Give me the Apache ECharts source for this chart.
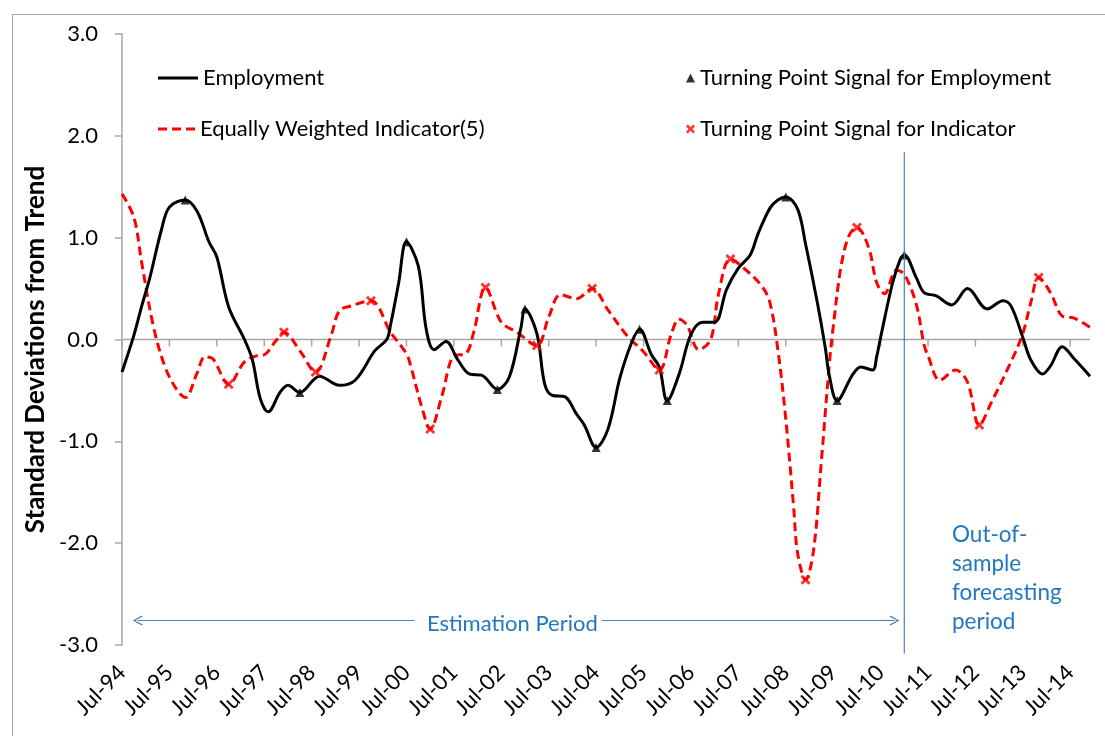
<!DOCTYPE html>
<html>
<head>
<meta charset="utf-8">
<script src="https://cdn.jsdelivr.net/npm/echarts@6/dist/echarts.min.js"></script>
<style>
  html, body { margin: 0; padding: 0; background: #fff; }
  #wrap { position: relative; width: 1105px; height: 736px; overflow: hidden; }
  #chart { width: 1105px; height: 736px; }
  #frame {
    position: absolute; left: 12px; top: 14px; width: 1120px; height: 760px;
    border: 1.5px solid #a6a6a6; pointer-events: none;
  }
</style>
</head>
<body>
<div id="wrap">
  <div id="chart"></div>
  <div id="frame"></div>
</div>
<script>
// months counted from Jul-94
const yearLabels = ['Jul-94', 'Jul-95', 'Jul-96', 'Jul-97', 'Jul-98', 'Jul-99', 'Jul-00', 'Jul-01', 'Jul-02', 'Jul-03',
  'Jul-04', 'Jul-05', 'Jul-06', 'Jul-07', 'Jul-08', 'Jul-09', 'Jul-10', 'Jul-11', 'Jul-12', 'Jul-13', 'Jul-14']

const empX = [0, 3, 5, 7, 10, 12, 16, 19, 22, 24, 27, 31, 33, 35, 37, 40, 42, 45, 50, 55, 59, 64, 67, 68, 70, 72, 75, 77, 79, 82,
  85, 88, 91, 95, 98, 101, 102, 105, 107, 109, 112, 115, 117, 120, 123, 126, 129, 131, 134, 136, 138, 141, 144, 147, 150, 153,
  156, 159, 161, 164, 166, 168, 171, 173, 176, 178, 179, 181, 185, 187, 190, 191, 192, 195, 197, 198, 201, 203, 206, 210, 214,
  219, 223, 225, 228, 230, 233, 235, 238, 241, 245]
const empY = [-0.32, 0.04, 0.33, 0.60, 1.08, 1.30, 1.37, 1.26, 0.96, 0.81, 0.32, 0.00, -0.20, -0.58, -0.71, -0.52, -0.45, -0.52,
  -0.36, -0.45, -0.40, -0.11, 0.00, 0.15, 0.55, 0.96, 0.72, 0.10, -0.10, -0.02, -0.20, -0.34, -0.35, -0.49, -0.37, 0.12, 0.30,
  0.06, -0.44, -0.55, -0.56, -0.73, -0.84, -1.06, -0.88, -0.38, -0.03, 0.10, -0.15, -0.27, -0.60, -0.34, 0.05, 0.17, 0.17, 0.49,
  0.70, 0.83, 1.04, 1.29, 1.37, 1.40, 1.28, 0.94, 0.36, -0.08, -0.35, -0.60, -0.34, -0.27, -0.30, -0.17, 0.02, 0.55, 0.79, 0.83,
  0.61, 0.46, 0.43, 0.34, 0.50, 0.30, 0.38, 0.33, 0.02, -0.20, -0.34, -0.26, -0.07, -0.19, -0.36]

const indX = [0, 3, 5, 8, 11, 14, 16, 19, 21, 23, 27, 31, 34, 36, 39, 41, 45, 49, 53, 55, 58, 63, 68, 72, 73, 76, 78, 81, 84, 87,
  89, 92, 96, 100, 105, 108, 111, 115, 119, 123, 128, 132, 136, 139, 141, 143, 146, 149, 151, 154, 158, 162, 164, 166, 168, 170,
  171, 173, 175, 177, 179, 180, 182, 184, 186, 189, 191, 193, 196, 198, 201, 203, 204, 207, 211, 214, 217, 220, 225, 228, 230,
  232, 235, 238, 241, 245]
const indY = [1.43, 1.20, 0.75, 0.12, -0.28, -0.50, -0.57, -0.33, -0.17, -0.19, -0.44, -0.22, -0.16, -0.15, -0.01, 0.07, -0.11,
  -0.32, 0.05, 0.28, 0.33, 0.38, 0.07, -0.14, -0.25, -0.68, -0.88, -0.55, -0.16, -0.14, 0.07, 0.51, 0.17, 0.07, -0.06, 0.22,
  0.44, 0.40, 0.50, 0.29, 0.03, -0.12, -0.30, 0.05, 0.20, 0.14, -0.10, 0.00, 0.45, 0.79, 0.68, 0.52, 0.36, -0.10, -0.78, -1.65,
  -2.10, -2.36, -2.08, -1.20, -0.25, 0.12, 0.72, 1.02, 1.10, 0.90, 0.56, 0.45, 0.68, 0.64, 0.35, -0.05, -0.16, -0.40, -0.30,
  -0.42, -0.84, -0.62, -0.22, 0.06, 0.36, 0.61, 0.46, 0.23, 0.21, 0.12]

const empSignalX = [16, 45, 72, 95, 102, 120, 131, 138, 168, 181, 198]
const empSignalY = [1.37, -0.52, 0.96, -0.49, 0.30, -1.06, 0.10, -0.60, 1.40, -0.60, 0.83]
const indSignalX = [27, 41, 49, 63, 78, 92, 105, 119, 136, 154, 173, 186, 217, 232]
const indSignalY = [-0.44, 0.07, -0.32, 0.38, -0.88, 0.51, -0.06, 0.50, -0.30, 0.79, -2.36, 1.10, -0.84, 0.61]

const xMax = 245
const forecastStart = 198
const estimationStart = 4
const estimationEnd = 195.5

const pairs = (xs, ys) => xs.map((x, i) => [x, ys[i]])

const FONT = 'Lato, "Open Sans", sans-serif'
const AXIS_GRAY = '#a6a6a6'
const BLUE_LINE = '#4a7ebb'
const BLUE_TEXT = '#2277c1'
const crossIcon = 'path://M0,2 L2,0 L5,3 L8,0 L10,2 L7,5 L10,8 L8,10 L5,7 L2,10 L0,8 L3,5 Z'
const chevron = 'path://M5,0 L10,9 L9,10 L5,2.5 L1,10 L0,9 Z'
const solidIcon = 'path://M0,0 H40 V3 H0 Z'
const dashIcon = 'path://M0,0 H9 V3 H0 Z M14,0 H23 V3 H14 Z M28,0 H37 V3 H28 Z'

const chart = echarts.init(document.getElementById('chart'))

const legendBase = {
  orient: 'horizontal',
  textStyle: { fontFamily: FONT, fontSize: 22, color: '#000' },
  selectedMode: false
}

chart.setOption({
  backgroundColor: '#fff',
  animation: false,
  grid: { left: 122, right: 15, top: 34, bottom: 91 },
  legend: [
    Object.assign({}, legendBase, { data: [{ name: 'Employment', icon: solidIcon }], left: 153, top: 62, itemWidth: 40, itemHeight: 3 }),
    Object.assign({}, legendBase, { data: [{ name: 'Equally Weighted Indicator(5)', icon: dashIcon }], left: 153, top: 113, itemWidth: 37, itemHeight: 3 }),
    Object.assign({}, legendBase, { data: [{ name: 'Turning Point Signal for Employment', icon: 'triangle' }], left: 681, top: 62, itemWidth: 9, itemHeight: 9 }),
    Object.assign({}, legendBase, { data: [{ name: 'Turning Point Signal for Indicator', icon: crossIcon }], left: 681, top: 113, itemWidth: 9, itemHeight: 9 })
  ],
  xAxis: {
    type: 'value',
    min: 0,
    max: xMax,
    interval: 12,
    axisLine: { show: false, onZero: false },
    axisTick: { show: false },
    splitLine: { show: false },
    axisLabel: {
      rotate: 45,
      margin: 24,
      fontFamily: FONT,
      fontSize: 22,
      color: '#000',
      showMaxLabel: false,
      formatter: v => (v % 12 === 0 ? yearLabels[v / 12] || '' : '')
    }
  },
  yAxis: {
    type: 'value',
    min: -3,
    max: 3,
    interval: 1,
    name: 'Standard Deviations from Trend',
    nameLocation: 'middle',
    nameGap: 68,
    nameTextStyle: { fontFamily: FONT, fontSize: 26, fontWeight: 'bold', color: '#000', padding: [0, 20, 0, 0] },
    axisLine: { show: true, onZero: false, lineStyle: { color: AXIS_GRAY, width: 1.5 } },
    axisTick: { show: true, length: 7, lineStyle: { color: AXIS_GRAY, width: 1.5 } },
    splitLine: { show: false },
    axisLabel: {
      margin: 24,
      fontFamily: FONT,
      fontSize: 22,
      color: '#000',
      formatter: v => v.toFixed(1)
    }
  },
  series: [
    {
      name: 'Employment',
      type: 'line',
      data: pairs(empX, empY),
      smooth: 0.35,
      symbol: 'none',
      lineStyle: { color: '#000', width: 3 },
      itemStyle: { color: '#000' },
      z: 3
    },
    {
      name: 'Equally Weighted Indicator(5)',
      type: 'line',
      data: pairs(indX, indY),
      smooth: 0.35,
      symbol: 'none',
      lineStyle: { color: '#ff0000', width: 3, type: [9, 5] },
      itemStyle: { color: '#ff0000' },
      z: 2,
      // estimation-period arrows
      markLine: {
        silent: true,
        animation: false,
        label: { show: false },
        symbolSize: 10,
        lineStyle: { color: BLUE_LINE, width: 1, type: 'solid' },
        data: [
          [{ coord: [estimationStart, -2.76], symbol: chevron }, { coord: [74, -2.76], symbol: 'none' }],
          [{ coord: [121.5, -2.76], symbol: 'none' }, { coord: [estimationEnd, -2.76], symbol: chevron }]
        ]
      }
    },
    {
      name: 'Turning Point Signal for Employment',
      type: 'scatter',
      data: pairs(empSignalX, empSignalY),
      symbol: 'triangle',
      symbolSize: 9,
      itemStyle: { color: '#000' },
      z: 5
    },
    {
      name: 'Turning Point Signal for Indicator',
      type: 'scatter',
      data: pairs(indSignalX, indSignalY),
      symbol: crossIcon,
      symbolSize: 10,
      itemStyle: { color: '#ff0000' },
      z: 5
    }
  ]
})

// zero line with yearly ticks and the forecast divider, placed through the chart's own scales
const toPx = (x, y) => chart.convertToPixel({ gridIndex: 0 }, [x, y])
const zeroStart = toPx(0, 0)
const zeroEnd = toPx(xMax, 0)
const divTop = toPx(forecastStart, 1.84)
const divBottom = toPx(forecastStart, -3.08)

const tickLines = yearLabels.map((_, i) => {
  const p = toPx(i * 12, 0)
  return {
    type: 'line',
    silent: true,
    shape: { x1: p[0], y1: p[1], x2: p[0], y2: p[1] + 7 },
    style: { stroke: AXIS_GRAY, lineWidth: 1.5 }
  }
})

chart.setOption({
  graphic: [
    {
      type: 'line',
      silent: true,
      shape: { x1: zeroStart[0], y1: zeroStart[1], x2: zeroEnd[0], y2: zeroEnd[1] },
      style: { stroke: AXIS_GRAY, lineWidth: 1.5 }
    },
    ...tickLines,
    {
      type: 'line',
      silent: true,
      z: 10,
      shape: { x1: divTop[0], y1: divTop[1], x2: divBottom[0], y2: divBottom[1] },
      style: { stroke: BLUE_LINE, lineWidth: 1.2 }
    },
    {
      type: 'text',
      left: 427,
      top: 613,
      style: { text: 'Estimation Period', font: '22px ' + FONT, fill: BLUE_TEXT }
    },
    {
      type: 'text',
      left: 952,
      top: 520,
      style: {
        text: 'Out-of-\nsample\nforecasting\nperiod',
        font: '22.5px ' + FONT,
        lineHeight: 29,
        fill: BLUE_TEXT
      }
    }
  ]
})

window.addEventListener('resize', () => chart.resize())
</script>
</body>
</html>
